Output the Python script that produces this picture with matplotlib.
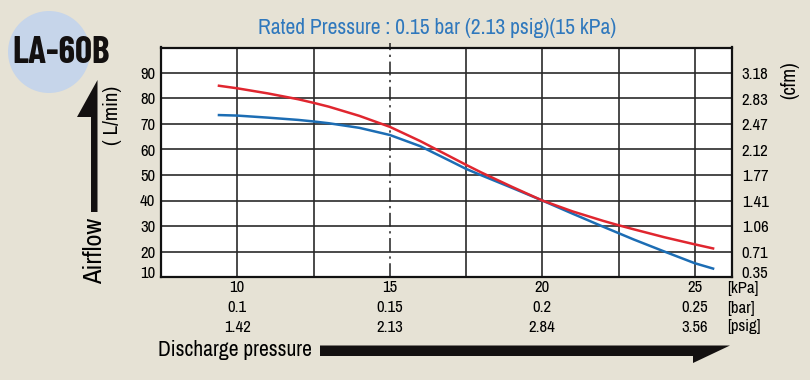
import numpy as np
import matplotlib.pyplot as plt
from matplotlib.patches import Polygon, Ellipse
from matplotlib.transforms import ScaledTranslation

# narrow face, the sandbox has Archivo Narrow
plt.rcParams['font.family'] = ['Archivo Narrow', 'DejaVu Sans']

# data
kpa_red = [9.4, 10, 11, 12, 12.5, 13, 14, 15, 16, 17, 17.5, 18, 19, 20,
           21, 22, 22.5, 23, 24, 25, 25.6]
flow_red = [85.0, 84.0, 82.0, 79.7, 78.3, 76.8, 73.2, 68.9, 63.3, 57.1, 54.0,
            51.0, 45.4, 40.0, 35.7, 32.0, 30.3, 28.7, 25.6, 22.8, 21.2]

kpa_blue = [9.4, 10, 11, 12, 12.5, 13, 14, 15, 16, 17, 17.5, 18, 19, 20,
            21, 22, 22.5, 23, 24, 25, 25.6]
flow_blue = [73.5, 73.3, 72.5, 71.6, 71.0, 70.3, 68.5, 65.7, 61.3, 55.4, 52.4,
             49.9, 45.0, 40.0, 34.8, 29.7, 27.2, 24.7, 20.0, 15.4, 13.3]

y_ticks = [10, 20, 30, 40, 50, 60, 70, 80, 90]
cfm_labels = ['0.35', '0.71', '1.06', '1.41', '1.77', '2.12', '2.47', '2.83', '3.18']
x_grid = [10, 12.5, 17.5, 20, 22.5, 25]
rated_kpa = 15
x_ticks = [10, 15, 20, 25]
kpa_labels = ['10', '15', '20', '25']
bar_labels = ['0.1', '0.15', '0.2', '0.25']
psig_labels = ['1.42', '2.13', '2.84', '3.56']

W, H = 810, 380
BG = '#e6e2d5'
RED = '#e0262f'
BLUE = '#1c6db4'
TITLE = '#2f78bd'
INK = '#131010'


def px(x, y):
    # pixel (from top-left) -> figure fraction
    return (x / W, 1 - y / H)


fig = plt.figure(figsize=(W / 100, H / 100), dpi=100, facecolor=BG)
ax = fig.add_axes([161 / W, 1 - 277 / H, (732 - 161) / W, (277 - 47.5) / H])
ax.set_facecolor('white')

ax.set_xlim(7.5, 26.22)
ax.set_ylim(10, 100)

for x in x_grid:
    ax.axvline(x, color='#2a2a2a', lw=1.2, zorder=1)
for y in y_ticks[1:]:
    ax.axhline(y, color='#2a2a2a', lw=1.2, zorder=1)
ax.axvline(rated_kpa, ymin=0, ymax=1.02, color='#222222', lw=1.1,
           dashes=(9, 3, 1.5, 3), clip_on=False, zorder=1)

ax.plot(kpa_blue, flow_blue, color=BLUE, lw=1.8, zorder=3)
ax.plot(kpa_red, flow_red, color=RED, lw=1.8, zorder=4)

for s in ax.spines.values():
    s.set_linewidth(1.6)
    s.set_color('#111111')

ax.set_yticks(y_ticks)
ax.set_yticklabels([str(v) for v in y_ticks], fontsize=12)
ax.tick_params(axis='y', length=0, pad=4)
ax.set_xticks(x_ticks)
ax.set_xticklabels([])
ax.tick_params(axis='x', length=0)

ax2 = ax.twinx()
ax2.set_ylim(10, 100)
ax2.set_yticks(y_ticks)
ax2.set_yticklabels(cfm_labels, fontsize=12)
ax2.tick_params(axis='y', length=0, pad=7)
for s in ax2.spines.values():
    s.set_visible(False)

lift = ScaledTranslation(0, 5 / 100, fig.dpi_scale_trans)
for lab in (ax.get_yticklabels()[0], ax2.get_yticklabels()[0]):
    lab.set_transform(lab.get_transform() + lift)

# pressure rows under the axis
trans = ax.get_xaxis_transform()
rows = [(kpa_labels, '[kPa]', 288), (bar_labels, '[bar]', 308), (psig_labels, '[psig]', 327)]
for labels, unit, ypx in rows:
    yy = 1 - (ypx - 47.5) / (277 - 47.5)
    for x, lab in zip(x_ticks, labels):
        ax.text(x, yy, lab, transform=trans, ha='center', va='center',
                fontsize=12, clip_on=False)
    fig.text(727 / W, 1 - ypx / H, unit, ha='left', va='center', fontsize=12)

# title
fig.text(437 / W, 1 - 28 / H, 'Rated Pressure : 0.15 bar (2.13 psig)(15 kPa)',
         ha='center', va='center', fontsize=15.5, color=TITLE)

# model badge
fig.patches.append(Ellipse(px(49, 52), 82 / W, 82 / H, transform=fig.transFigure,
                           facecolor='#c6d5ea', edgecolor='none', zorder=0))
fig.text(*px(61, 53), 'LA-60B', ha='center', va='center', fontsize=27,
         fontweight='bold', family=['Barlow Condensed', 'Archivo Narrow'], color=INK)

# axis labels
fig.text(*px(95, 251), 'Airflow', rotation=90, ha='center', va='center', fontsize=19)
fig.text(*px(113, 115), '( L/min)', rotation=90, ha='center', va='center', fontsize=15)
fig.text(*px(790, 80), '(cfm)', rotation=90, ha='center', va='center', fontsize=14.5)
fig.text(*px(158, 350), 'Discharge pressure', ha='left', va='center', fontsize=15.5)

# arrows
up = [px(91, 212), px(97.5, 212), px(97.5, 80), px(77, 117), px(91, 117)]
right = [px(320, 345.5), px(730, 345.5), px(693, 363), px(693, 356), px(320, 356)]
for pts in (up, right):
    fig.patches.append(Polygon(pts, closed=True, transform=fig.transFigure,
                               facecolor=INK, edgecolor='none'))

fig.savefig('out.png', dpi=100, facecolor=BG)
